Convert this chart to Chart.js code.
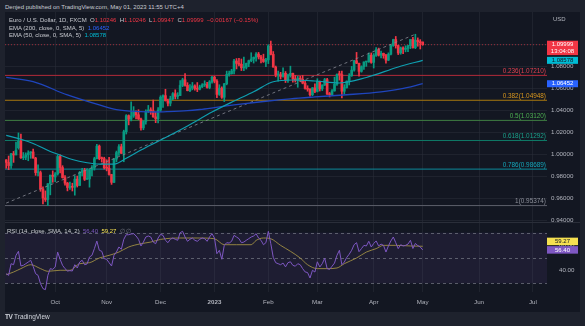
<!DOCTYPE html>
<html>
<head>
<meta charset="utf-8">
<script src="https://cdn.jsdelivr.net/npm/chart.js@4.4.1/dist/chart.umd.min.js"></script>
<style>
  body { margin: 0; background: #1e222d; width: 585px; height: 326px; overflow: hidden; font-family: "Liberation Sans", Arial, sans-serif; }
  #wrap { position: relative; width: 585px; height: 326px; }
  .abs { position: absolute; white-space: nowrap; line-height: 1; }
  #panel { position: absolute; left: 5px; top: 12px; width: 575px; height: 300px; background: #131722; }
  #sep { position: absolute; left: 5px; top: 222px; width: 575px; height: 1px; background: #2a2e39; }
  canvas { position: absolute; left: 5px; }
  .lg { font-size: 6px; color: #c9cbd1; }
  .red { color: #f23645; }
</style>
</head>
<body>
<div id="wrap">
  <div class="abs" style="left:5px;top:4px;font-size:6px;color:#c9cbd1">Denjed published on TradingView.com, May 01, 2023 11:55 UTC+4</div>
  <div id="panel"></div>
  <div id="sep"></div>
  <canvas id="main" width="575" height="214" style="top:12px"></canvas>
  <canvas id="rsi" width="575" height="89" style="top:223px"></canvas>

  <div class="abs lg" style="left:9px;top:17px">Euro / U.S. Dollar, 1D, FXCM&nbsp;
    O<span class="red">1.10246</span>&nbsp; H<span class="red">1.10246</span>&nbsp; L<span class="red">1.09947</span>&nbsp; C<span class="red">1.09999</span>&nbsp; <span class="red">−0.00167 (−0.15%)</span></div>
  <div class="abs lg" style="left:9px;top:25px">EMA (200, close, 0, SMA, 5)&nbsp; <span style="color:#2962ff">1.06452</span></div>
  <div class="abs lg" style="left:9px;top:32px">EMA (50, close, 0, SMA, 5)&nbsp; <span style="color:#00bcd4">1.08578</span></div>
  <div class="abs" style="left:553px;top:16px;font-size:6px;color:#b2b5be">USD</div>

  <div class="abs lg" style="left:7px;top:228px">RSI (14, close, SMA, 14, 2)&nbsp; <span style="color:#7e57c2">56.40</span>&nbsp; <span style="color:#f5e050">59.27</span>&nbsp; <span style="color:#787b86">∅ ∅</span></div>

  <div class="abs" style="left:5px;top:314px;font-size:6.5px;color:#d1d4dc"><b style="letter-spacing:-0.5px">TV</b> TradingView</div>
</div>

<script>
// EUR/USD daily, FXCM. index 0 = 2022-09-05, one entry per weekday up to 2023-05-01
const opens = [0.9953,0.9930,0.9901,1.0008,0.9998,1.0063,1.0122,0.9972,0.9977,0.9999,1.0016,1.0025,0.9969,0.9837,0.9837,0.9688,0.9606,0.9593,0.9736,0.9814,
  0.9797,0.9825,0.9984,0.9883,0.9792,0.9742,0.9702,0.9706,0.9704,0.9778,0.9720,0.9839,0.9857,0.9776,0.9780,0.9862,0.9878,0.9964,1.0078,0.9965,0.9964,
  0.9882,0.9877,0.9820,0.9749,0.9960,1.0019,1.0073,1.0012,1.0209,1.0355,1.0323,1.0352,1.0392,1.0363,1.0325,1.0244,1.0302,1.0394,1.0406,1.0399,1.0344,1.0327,
  1.0406,1.0523,1.0537,1.0490,1.0468,1.0508,1.0555,1.0530,1.0538,1.0630,1.0681,1.0630,1.0582,1.0605,1.0625,1.0602,1.0595,1.0617,1.0635,1.0637,1.0611,1.0662,
  1.0705,1.0669,1.0548,1.0605,1.0522,1.0645,1.0730,1.0737,1.0761,1.0852,1.0830,1.0822,1.0790,1.0795,1.0830,1.0855,1.0870,1.0885,1.0915,1.0890,1.0868,1.0847,
  1.0862,1.0989,1.0912,1.0796,1.0726,1.0727,1.0712,1.0740,1.0679,1.0724,1.0740,1.0689,1.0677,1.0695,1.0686,1.0650,1.0602,1.0595,1.0545,1.0607,
  1.0576,1.0666,1.0599,1.0633,1.0682,1.0550,1.0546,1.0580,1.0641,1.0730,1.0728,1.0577,1.0610,1.0669,1.0718,1.0769,1.0854,1.0831,1.0758,1.0800,1.0843,1.0844,1.0905,
  1.0839,1.0902,1.0955,1.0905,1.0921,1.0902,1.0860,1.0913,1.0993,1.1047,1.0992,1.0925,1.0971,1.0958,1.0967,1.0991,1.1047,1.0973,1.1041,1.1027,
  1.10246];
const highs = [0.9955,0.9988,1.0012,1.0030,1.0114,1.0198,1.0187,1.0020,1.0017,1.0036,1.0028,1.0051,0.9976,0.9907,0.9852,0.9708,0.9671,0.9737,0.9815,0.9853,
  0.9838,0.9999,0.9999,0.9900,0.9810,0.9748,0.9752,0.9741,0.9809,0.9806,0.9848,0.9875,0.9876,0.9873,0.9869,0.9900,0.9977,1.0094,1.0088,0.9979,0.9977,
  0.9954,0.9976,0.9822,0.9964,1.0033,1.0093,1.0096,1.0223,1.0364,1.0362,1.0481,1.0437,1.0398,1.0409,1.0333,1.0307,1.0408,1.0448,1.0427,1.0497,1.0387,1.0429,
  1.0536,1.0545,1.0595,1.0506,1.0532,1.0565,1.0590,1.0564,1.0673,1.0695,1.0737,1.0655,1.0638,1.0657,1.0636,1.0656,1.0632,1.0646,1.0672,1.0659,1.0674,1.0713,
  1.0713,1.0683,1.0636,1.0617,1.0648,1.0760,1.0760,1.0776,1.0867,1.0874,1.0875,1.0870,1.0888,1.0833,1.0860,1.0927,1.0889,1.0929,1.0930,1.0903,1.0914,1.0875,
  1.1000,1.1033,1.0938,1.0806,1.0760,1.0749,1.0790,1.0756,1.0733,1.0805,1.0742,1.0720,1.0714,1.0713,1.0720,1.0669,1.0627,1.0601,1.0611,1.0645,
  1.0691,1.0669,1.0636,1.0694,1.0695,1.0566,1.0593,1.0705,1.0736,1.0759,1.0761,1.0637,1.0671,1.0737,1.0803,1.0857,1.0930,1.0834,1.0808,1.0845,1.0849,1.0925,1.0925,
  1.0919,1.0973,1.0969,1.0942,1.0924,1.0913,1.0926,1.0998,1.1050,1.1075,1.0995,1.0979,1.0981,1.0990,1.0995,1.1048,1.1067,1.1095,1.1062,1.1046,
  1.10246];
const lows = [0.9877,0.9864,0.9875,0.9930,0.9997,1.0050,0.9966,0.9955,0.9955,0.9945,0.9967,0.9969,0.9812,0.9807,0.9667,0.9553,0.9575,0.9537,0.9635,0.9749,
  0.9754,0.9814,0.9835,0.9787,0.9723,0.9671,0.9684,0.9670,0.9632,0.9706,0.9720,0.9806,0.9765,0.9775,0.9705,0.9808,0.9860,0.9961,0.9954,0.9933,0.9870,
  0.9853,0.9814,0.9730,0.9745,0.9935,0.9993,1.0011,0.9936,1.0188,1.0271,1.0307,1.0339,1.0325,1.0320,1.0223,1.0227,1.0277,1.0383,1.0367,1.0340,1.0291,1.0290,
  1.0392,1.0430,1.0488,1.0443,1.0444,1.0500,1.0507,1.0508,1.0537,1.0618,1.0622,1.0580,1.0574,1.0590,1.0586,1.0573,1.0589,1.0610,1.0620,1.0604,1.0599,1.0650,
  1.0653,1.0519,1.0539,1.0512,1.0483,1.0635,1.0713,1.0732,1.0735,1.0780,1.0806,1.0765,1.0765,1.0779,1.0800,1.0845,1.0833,1.0850,1.0870,1.0835,1.0839,1.0800,
  1.0828,1.0907,1.0796,1.0708,1.0669,1.0688,1.0704,1.0656,1.0656,1.0705,1.0660,1.0660,1.0613,1.0665,1.0644,1.0596,1.0577,1.0533,1.0536,1.0563,
  1.0570,1.0579,1.0583,1.0629,1.0547,1.0525,1.0540,1.0577,1.0630,1.0678,1.0516,1.0551,1.0605,1.0634,1.0712,1.0760,1.0828,1.0713,1.0750,1.0775,1.0803,1.0840,1.0831,
  1.0788,1.0893,1.0897,1.0880,1.0877,1.0832,1.0855,1.0907,1.0985,1.0969,1.0910,1.0913,1.0918,1.0935,1.0937,1.0964,1.0968,1.0964,1.0986,1.0961,
  1.09947];
const closes = [0.9930,0.9901,1.0008,0.9998,1.0041,1.0122,0.9972,0.9977,0.9999,1.0016,1.0025,0.9969,0.9837,0.9837,0.9688,0.9606,0.9593,0.9736,0.9814,0.9802,
  0.9825,0.9984,0.9883,0.9792,0.9742,0.9702,0.9706,0.9704,0.9778,0.9720,0.9839,0.9857,0.9776,0.9780,0.9862,0.9878,0.9964,1.0078,0.9965,0.9964,0.9882,
  0.9877,0.9820,0.9749,0.9960,1.0019,1.0073,1.0012,1.0209,1.0355,1.0323,1.0352,1.0392,1.0363,1.0325,1.0244,1.0302,1.0394,1.0406,1.0399,1.0344,1.0327,1.0406,
  1.0523,1.0537,1.0490,1.0468,1.0508,1.0555,1.0530,1.0538,1.0630,1.0681,1.0630,1.0582,1.0605,1.0625,1.0602,1.0595,1.0617,1.0635,1.0637,1.0611,1.0662,1.0705,
  1.0669,1.0548,1.0605,1.0522,1.0645,1.0730,1.0737,1.0761,1.0852,1.0830,1.0822,1.0790,1.0795,1.0830,1.0855,1.0870,1.0885,1.0915,1.0890,1.0868,1.0847,1.0862,
  1.0989,1.0912,1.0796,1.0726,1.0727,1.0712,1.0740,1.0679,1.0724,1.0740,1.0689,1.0677,1.0695,1.0686,1.0650,1.0602,1.0595,1.0545,1.0607,1.0576,
  1.0666,1.0599,1.0633,1.0682,1.0550,1.0546,1.0580,1.0641,1.0730,1.0728,1.0577,1.0610,1.0669,1.0718,1.0769,1.0854,1.0831,1.0758,1.0800,1.0843,1.0844,1.0905,1.0839,
  1.0902,1.0955,1.0905,1.0921,1.0902,1.0860,1.0913,1.0993,1.1047,1.0992,1.0925,1.0971,1.0958,1.0967,1.0991,1.1047,1.0973,1.1041,1.1027,1.1017,
  1.09999];

// EMA 200 / EMA 50 (SMA 5 smoothed), read at bar indexes
const ema200Idx = [0, 11, 25, 38, 45, 55, 61, 66, 74, 79, 85, 93, 106, 116, 126, 139, 153, 161, 170];
const ema200Val = [1.0702, 1.0664, 1.0543, 1.0452, 1.0410, 1.0392, 1.0388, 1.0391, 1.0400, 1.0411, 1.0428, 1.0452, 1.0486, 1.0508, 1.0525, 1.0545, 1.0572, 1.0598, 1.06452];
const ema50Idx = [0, 6, 11, 18, 22, 27, 33, 38, 44, 49, 55, 63, 74, 84, 93, 101, 109, 117, 126, 136, 147, 160, 170];
const ema50Val = [1.0175, 1.0140, 1.0102, 1.0029, 0.9997, 0.9956, 0.9927, 0.9915, 0.9915, 0.9967, 1.0042, 1.0133, 1.0261, 1.0388, 1.0488, 1.0572, 1.0663, 1.0679, 1.0670, 1.0652, 1.0702, 1.0797, 1.08578];

// RSI 14 and its SMA 14
const rsi = [37.6,36.3,45.5,44.7,52.1,55.3,43.7,44.2,45.5,46.8,48.2,43.4,37.6,36.3,29.7,25.8,25.0,36.3,41.6,41.0,
  42.9,54.7,49.0,44.2,41.6,39.7,40.0,39.7,44.7,42.1,46.8,48.2,44.7,45.3,50.8,52.1,57.4,63.4,56.1,55.3,49.5,
  49.0,46.3,43.7,52.1,54.7,58.7,56.9,64.8,68.4,68.4,69.0,69.2,67.4,64.8,59.5,62.6,66.6,67.4,66.6,62.6,61.3,65.8,
  68.7,67.9,64.0,62.1,64.8,65.8,64.8,64.0,70.0,71.1,66.6,63.2,64.8,65.8,64.0,63.2,64.8,65.8,65.3,63.2,66.6,69.2,
  65.8,53.4,56.1,49.0,60.0,62.1,61.8,63.2,67.9,66.6,65.3,62.1,62.6,64.0,65.3,66.6,67.4,69.2,65.8,64.0,60.5,62.1,
  71.1,61.3,50.5,46.3,45.5,44.7,46.0,43.0,46.3,47.0,44.2,43.5,45.5,44.7,41.6,39.0,38.5,34.2,40.3,38.9,
  47.0,42.9,45.5,49.8,41.6,41.0,43.5,46.0,52.1,56.1,44.7,46.8,50.5,53.0,56.1,60.5,62.1,55.0,57.4,60.0,59.5,63.2,58.7,
  61.5,63.5,59.5,61.0,60.0,54.7,59.5,63.5,66.6,62.1,57.4,60.5,59.5,60.0,61.0,64.0,57.5,61.5,59.8,58.7,
  56.40];
const rsiMaIdx = [0, 3, 6, 10, 14, 17, 22, 26, 30, 34, 38, 42, 46, 50, 55, 59, 63, 71, 79, 85, 89, 94, 100, 102, 105, 108, 112, 116, 120, 123, 127, 131, 135, 138, 143, 147, 151, 154, 159, 165, 170];
const rsiMaVal = [36.8, 38.9, 41.6, 44.7, 41.6, 39.5, 40.3, 40.3, 45.5, 46.3, 50.0, 52.1, 54.7, 58.7, 61.3, 62.6, 64.7, 65.8, 65.8, 65.2, 60.5, 60.5, 60.5, 63.9, 65.8, 65.2, 60.0, 55.3, 50.0, 44.7, 41.6, 41.6, 42.1, 45.5, 50.0, 54.7, 57.4, 60.0, 60.0, 59.5, 59.27];

// fibonacci retracement levels
const fibRatios = ['0.236', '0.382', '0.5', '0.618', '0.786', '1'];
const fibLevels = [1.07210, 1.04948, 1.03120, 1.01292, 0.98689, 0.95374];
const fibLine = ['#b22b39', '#a8780f', '#3f7f42', '#0f7a68', '#0d8b9c', '#5d606b'];
const fibText = ['#e0404f', '#d9971d', '#4caf50', '#1aa08a', '#14a6ba', '#8d909a'];

// trend line anchors and last price
const trendIdx = [0, 167];
const trendVal = [0.9560, 1.1095];
const lastPrice = 1.09999;
const lastTime = '13:04:08';

// time axis
const monthIdx = [20, 41, 63, 85, 107, 127, 150, 170, 193, 215];
const monthLabels = ['Oct', 'Nov', 'Dec', '2023', 'Feb', 'Mar', 'Apr', 'May', 'Jun', 'Jul'];
const priceTicks = [0.94, 0.96, 0.98, 1.00, 1.02, 1.04, 1.06, 1.08, 1.10];
const rsiTicks = [40, 60];

const xMin = -0.49, xMax = 220.73;
const FONT = '"Liberation Sans", Arial, sans-serif';
const gridColor = 'rgba(42,46,57,0.55)';
const axisText = '#b2b5be';
const upColor = '#089981', downColor = '#f23645';

Chart.defaults.font.family = FONT;

const candleColors = closes.map((c, i) => c >= opens[i] ? upColor : downColor);

function hline(v, color, dash, order) {
  return {
    type: 'line', data: [{ x: xMin, y: v }, { x: xMax, y: v }],
    borderColor: color, borderWidth: 1, borderDash: dash, pointRadius: 0, order: order
  };
}

function axisBox(ctx, x, yc, h, bg, fg, lines) {
  ctx.fillStyle = bg;
  ctx.fillRect(x, yc - h / 2, 31, h);
  ctx.fillStyle = fg;
  ctx.textAlign = 'center';
  ctx.textBaseline = 'middle';
  const step = h / lines.length;
  lines.forEach((t, k) => ctx.fillText(t, x + 15.5, yc - h / 2 + step * (k + 0.5)));
}

const mainOverlay = {
  id: 'mainOverlay',
  afterDatasetsDraw(chart) {
    const { ctx, chartArea } = chart;
    const y = chart.scales.y;
    ctx.save();
    ctx.font = '6.4px ' + FONT;
    ctx.textAlign = 'right';
    ctx.textBaseline = 'alphabetic';
    fibLevels.forEach((lv, k) => {
      ctx.fillStyle = fibText[k];
      ctx.fillText(fibRatios[k] + '(' + lv.toFixed(5) + ')', chartArea.right - 1, y.getPixelForValue(lv) - 2.5);
    });
    ctx.restore();
  },
  afterDraw(chart) {
    const { ctx, chartArea } = chart;
    const y = chart.scales.y;
    ctx.save();
    ctx.font = '6px ' + FONT;
    const py = y.getPixelForValue(lastPrice);
    axisBox(ctx, chartArea.right, py + 3.2, 14.4, '#f23645', '#ffffff', [lastPrice.toFixed(5), lastTime]);
    axisBox(ctx, chartArea.right, y.getPixelForValue(ema50Val[ema50Val.length - 1]), 7, '#00bcd4', '#131722', [ema50Val[ema50Val.length - 1].toFixed(5)]);
    axisBox(ctx, chartArea.right, y.getPixelForValue(ema200Val[ema200Val.length - 1]), 7, '#2962ff', '#ffffff', [ema200Val[ema200Val.length - 1].toFixed(5)]);
    ctx.restore();
  }
};

const mainDatasets = [];
fibLevels.forEach((lv, k) => mainDatasets.push(hline(lv, fibLine[k], [], 10)));
mainDatasets.push(hline(lastPrice, 'rgba(242,54,69,0.6)', [1, 2], 9));
mainDatasets.push({
  type: 'bar', data: lows.map((l, i) => ({ x: i, y: [l, highs[i]] })),
  backgroundColor: candleColors, barThickness: 1, grouped: false, order: 6
});
mainDatasets.push({
  type: 'bar', data: opens.map((o, i) => ({ x: i, y: [o, closes[i]] })),
  backgroundColor: candleColors, barThickness: 2, minBarLength: 1, grouped: false, order: 5
});
mainDatasets.push({
  type: 'line', data: trendIdx.map((v, k) => ({ x: v, y: trendVal[k] })),
  borderColor: 'rgba(135,138,148,0.8)', borderWidth: 1, borderDash: [3, 3], pointRadius: 0, order: 3
});
mainDatasets.push({
  type: 'line', data: ema200Idx.map((v, k) => ({ x: v, y: ema200Val[k] })),
  borderColor: '#1f45bd', borderWidth: 1.3, pointRadius: 0, cubicInterpolationMode: 'monotone', order: 2
});
mainDatasets.push({
  type: 'line', data: ema50Idx.map((v, k) => ({ x: v, y: ema50Val[k] })),
  borderColor: '#0f9fb0', borderWidth: 1.2, pointRadius: 0, cubicInterpolationMode: 'monotone', order: 1
});

new Chart(document.getElementById('main'), {
  type: 'bar',
  data: { datasets: mainDatasets },
  plugins: [mainOverlay],
  options: {
    responsive: false, animation: false,
    layout: { padding: 0 },
    plugins: { legend: { display: false }, tooltip: { enabled: false } },
    scales: {
      x: {
        type: 'linear', min: xMin, max: xMax, offset: false,
        afterBuildTicks: s => { s.ticks = monthIdx.map(v => ({ value: v })); },
        afterFit: s => { s.height = 4; s.paddingLeft = 0; s.paddingRight = 0; },
        ticks: { display: false },
        grid: { color: gridColor, drawTicks: false, offset: false },
        border: { display: false }
      },
      y: {
        position: 'right', min: 0.938818, max: 1.129727,
        afterBuildTicks: s => { s.ticks = priceTicks.map(v => ({ value: v })); },
        afterFit: s => { s.width = 33; s.paddingTop = 0; s.paddingBottom = 0; },
        ticks: { color: axisText, font: { size: 6.2 }, padding: 4, callback: v => v.toFixed(5) },
        grid: { color: gridColor, drawTicks: false },
        border: { display: false }
      }
    }
  }
});

const rsiOverlay = {
  id: 'rsiOverlay',
  beforeDatasetsDraw(chart) {
    const { ctx, chartArea } = chart;
    const y = chart.scales.y;
    const t = y.getPixelForValue(70), b = y.getPixelForValue(30);
    ctx.save();
    ctx.fillStyle = 'rgba(126,87,194,0.1)';
    ctx.fillRect(chartArea.left, t, chartArea.right - chartArea.left, b - t);
    ctx.strokeStyle = 'rgba(120,123,134,0.7)';
    ctx.lineWidth = 1;
    ctx.setLineDash([3, 3]);
    [70, 50, 30].forEach(v => {
      const p = Math.round(y.getPixelForValue(v)) + 0.5;
      ctx.beginPath();
      ctx.moveTo(chartArea.left, p);
      ctx.lineTo(chartArea.right, p);
      ctx.stroke();
    });
    ctx.restore();
  },
  afterDraw(chart) {
    const { ctx, chartArea } = chart;
    const y = chart.scales.y;
    ctx.save();
    ctx.font = '6px ' + FONT;
    const last = rsi[rsi.length - 1];
    const pr = y.getPixelForValue(last);
    axisBox(ctx, chartArea.right, pr, 7.5, '#7e57c2', '#ffffff', [last.toFixed(2)]);
    const maLast = rsiMaVal[rsiMaVal.length - 1];
    const pm = Math.min(y.getPixelForValue(maLast), pr - 8.5);
    axisBox(ctx, chartArea.right, pm, 7.5, '#f5e050', '#131722', [maLast.toFixed(2)]);
    ctx.restore();
  }
};

new Chart(document.getElementById('rsi'), {
  type: 'line',
  data: {
    datasets: [
      { data: rsi.map((v, i) => ({ x: i, y: v })), borderColor: '#7e57c2', borderWidth: 1, pointRadius: 0, order: 1 },
      { data: rsiMaIdx.map((v, k) => ({ x: v, y: rsiMaVal[k] })), borderColor: 'rgba(176,156,70,0.8)', borderWidth: 1,
        pointRadius: 0, cubicInterpolationMode: 'monotone', order: 2 }
    ]
  },
  plugins: [rsiOverlay],
  options: {
    responsive: false, animation: false,
    layout: { padding: 0 },
    plugins: { legend: { display: false }, tooltip: { enabled: false } },
    scales: {
      x: {
        type: 'linear', min: xMin, max: xMax,
        afterBuildTicks: s => { s.ticks = monthIdx.map(v => ({ value: v })); },
        afterFit: s => { s.height = 20; s.paddingLeft = 0; s.paddingRight = 0; },
        ticks: {
          color: axisText, padding: 7, maxRotation: 0, autoSkip: false,
          font: c => ({ size: 6.2, weight: c.tick && c.tick.value === 85 ? 'bold' : 'normal' }),
          callback: (v, i) => monthLabels[i]
        },
        grid: { color: gridColor, drawTicks: false },
        border: { display: false }
      },
      y: {
        position: 'right', min: 23.123, max: 77.668,
        afterBuildTicks: s => { s.ticks = rsiTicks.map(v => ({ value: v })); },
        afterFit: s => { s.width = 33; s.paddingTop = 0; s.paddingBottom = 0; },
        ticks: { color: axisText, font: { size: 6.2 }, padding: 4, callback: v => v.toFixed(2) },
        grid: { display: false },
        border: { display: false }
      }
    }
  }
});
</script>
</body>
</html>
